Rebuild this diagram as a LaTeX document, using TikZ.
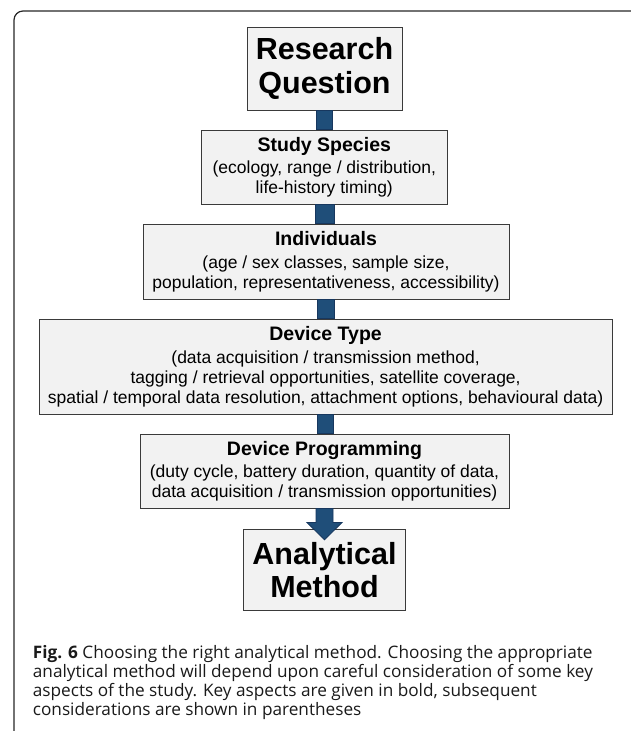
\documentclass[tikz,border=0pt]{standalone}
\usepackage{fontspec}
\setmainfont{Liberation Sans}
\newfontfamily\cpfont{Open Sans}
\definecolor{boxfill}{HTML}{F2F2F2}
\definecolor{boxline}{HTML}{3A3A3A}
\definecolor{barfill}{HTML}{1F4E79}
\definecolor{barline}{HTML}{17375E}
\definecolor{captext}{HTML}{1A1A1A}
\newcommand\rgfont{\fontsize{17.5}{20}\selectfont}
\newcommand\hdfont{\fontsize{19.5}{20}\selectfont\bfseries}
\newcommand\bgfont{\fontsize{30.5}{33.5}\selectfont\bfseries}
\begin{document}
\begin{tikzpicture}[x=1pt,y=-1pt,
  box/.style={draw=boxline, fill=boxfill, line width=0.9pt, align=center,
    inner sep=0pt, font=\rgfont},
  bigbox/.style={box, font=\bgfont},
  bar/.style={fill=barfill, draw=barline, line width=0.8pt},
  frame/.style={draw=black!85, line width=1.2pt, rounded corners=9pt},
  captline/.style={anchor=base west, inner sep=0pt, text=captext,
    font=\cpfont\fontsize{17.2}{19}\selectfont}]
\useasboundingbox (0,0) rectangle (631,731);
\draw[frame] (14,760) -- (14,11) -- (660,11);

\node[bigbox, minimum width=155pt, minimum height=82.7pt] (rq) at (324.5,68.6)
  {Research\\Question};
\node[box, minimum width=246.7pt, minimum height=74pt] (study) at (324.3,167)
  {{\hdfont Study Species}\\[2.5pt](ecology, range / distribution,\\life-history timing)};
\node[box, minimum width=366pt, minimum height=75pt] (indiv) at (326,261.5)
  {{\hdfont Individuals}\\[2.5pt](age / sex classes, sample size,\\population, representativeness, accessibility)};
\node[box, minimum width=572.7pt, minimum height=95pt] (dtype) at (325.6,366.5)
  {{\hdfont Device Type}\\[2.5pt](data acquisition / transmission method,\\tagging / retrieval opportunities, satellite coverage,\\spatial / temporal data resolution, attachment options, behavioural data)};
\node[box, minimum width=369pt, minimum height=74pt] (dprog) at (324.5,471)
  {{\hdfont Device Programming}\\[2.5pt](duty cycle, battery duration, quantity of data,\\data acquisition / transmission opportunities)};
\node[bigbox, minimum width=162.4pt, minimum height=81.7pt] (anal) at (324.5,570)
  {Analytical\\Method};

\draw[bar] ([xshift=-8.5pt]rq.south) rectangle ([xshift=8.5pt]study.north);
\draw[bar] ([xshift=-8.5pt]study.south) rectangle ([xshift=8.5pt]indiv.north);
\draw[bar] ([xshift=-8.5pt]indiv.south) rectangle ([xshift=8.5pt]dtype.north);
\draw[bar] ([xshift=-8.5pt]dtype.south) rectangle ([xshift=8.5pt]dprog.north);

\coordinate (tip) at ([yshift=-11pt]anal.north);
\coordinate (hb) at ([yshift=17.3pt]tip);
\draw[bar] ([xshift=-8.5pt]dprog.south) -- ([xshift=-8.5pt]hb) -- ([xshift=-17.7pt]hb)
  -- (tip) -- ([xshift=17.7pt]hb) -- ([xshift=8.5pt]hb) -- ([xshift=8.5pt]dprog.south) -- cycle;

\node[captline] (c1) at (32.7,658) {\textbf{Fig. 6} Choosing the right analytical method. Choosing the appropriate};
\node[captline] (c2) at (32.7,677) {analytical method will depend upon careful consideration of some key};
\node[captline] (c3) at (32.7,696) {aspects of the study. Key aspects are given in bold, subsequent};
\node[captline] (c4) at (32.7,715) {considerations are shown in parentheses};
\end{tikzpicture}
\end{document}
